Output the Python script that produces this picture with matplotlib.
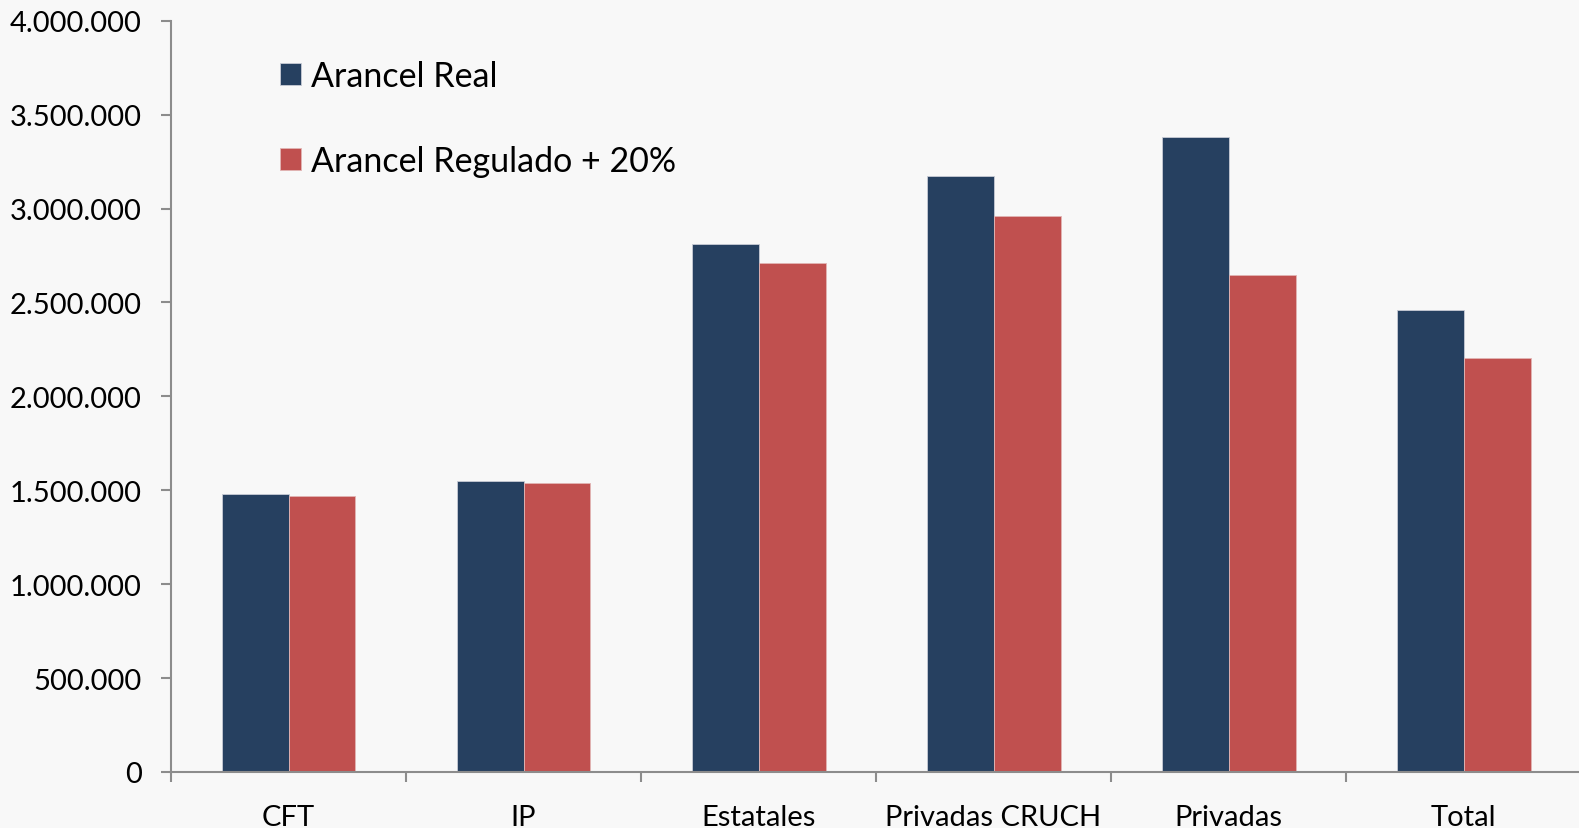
import numpy as np
import matplotlib.pyplot as plt
from matplotlib.ticker import FuncFormatter

# Data
categories = ["CFT", "IP", "Estatales", "Privadas CRUCH", "Privadas", "Total"]
arancel_real = [1480000, 1551000, 2810000, 3175000, 3381000, 2458000]
arancel_regulado = [1468000, 1537000, 2710000, 2958000, 2646000, 2204000]

navy = "#264060"
red = "#C0504F"
bg = "#f8f8f8"
axis_grey = "#8c8c8c"

plt.rcParams['font.family'] = ['Lato', 'DejaVu Sans']

fig = plt.figure(figsize=(15.79, 8.29), dpi=100, facecolor=bg)
ax = fig.add_axes([0.1083, 0.0676, 0.893, 0.9062])
ax.set_facecolor(bg)

x = np.arange(len(categories))
w = 0.285
ax.bar(x - w / 2, arancel_real, w, color=navy, edgecolor="#c8ccd6", linewidth=0.6,
       label="Arancel Real")
ax.bar(x + w / 2, arancel_regulado, w, color=red, edgecolor="#e2b5b4", linewidth=0.6,
       label="Arancel Regulado + 20%")

ax.set_xlim(-0.5, len(categories) - 0.5)
ax.set_ylim(0, 4000000)
ax.set_yticks(np.arange(0, 4000001, 500000))
ax.yaxis.set_major_formatter(FuncFormatter(lambda v, p: f"{int(v):,}".replace(",", ".")))

# category labels centered, ticks on boundaries
ax.set_xticks(np.arange(-0.5, len(categories), 1.0))
ax.set_xticklabels([])
ax.set_xticks(x, minor=True)
ax.set_xticklabels(categories, minor=True)
ax.tick_params(axis="x", which="minor", length=0, pad=23, labelsize=21)
ax.tick_params(axis="x", which="major", length=7, width=1.5, color=axis_grey, direction="out")
ax.tick_params(axis="y", length=7, width=1.5, color=axis_grey, pad=14, labelsize=21)

for s in ["top", "right"]:
    ax.spines[s].set_visible(False)
for s in ["left", "bottom"]:
    ax.spines[s].set_color(axis_grey)
    ax.spines[s].set_linewidth(1.5)

ax.legend(loc="upper left", bbox_to_anchor=(280 / 1579, 1 - 61 / 829),
          bbox_transform=fig.transFigure, frameon=False, fontsize=24.5,
          handlelength=0.62, handleheight=0.62, handletextpad=0.3,
          labelspacing=1.56, borderpad=0, borderaxespad=0)

fig.savefig("out.png", dpi=100, facecolor=bg)
